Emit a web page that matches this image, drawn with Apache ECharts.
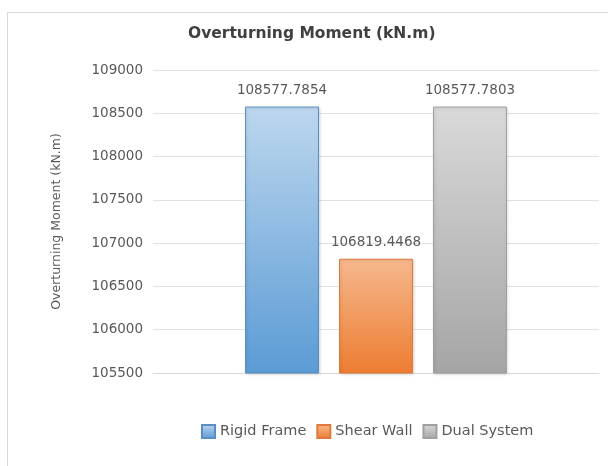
<!DOCTYPE html>
<html>
<head>
<meta charset="utf-8">
<script src="https://cdn.jsdelivr.net/npm/echarts@6/dist/echarts.min.js"></script>
<style>
  html, body { margin: 0; padding: 0; background: #fff; }
  #frame {
    position: absolute; left: 7px; top: 12px; width: 601px; height: 454px;
    border-top: 1px solid #d9d9d9; border-left: 1px solid #d9d9d9;
  }
  #chart { position: absolute; left: 0; top: 0; width: 608px; height: 466px; }
</style>
</head>
<body>
<div id="frame"></div>
<div id="chart"></div>
<script>
const categories = ["Overturning Moment"];
const seriesNames = ["Rigid Frame", "Shear Wall", "Dual System"];
const rigidFrame = [108577.7854];
const shearWall = [106819.4468];
const dualSystem = [108577.7803];

const chart = echarts.init(document.getElementById("chart"));

const grad = (top, bottom) =>
  new echarts.graphic.LinearGradient(0, 0, 0, 1, [
    { offset: 0, color: top },
    { offset: 1, color: bottom },
  ]);

const makeSeries = (name, data, top, bottom, border) => ({
  name,
  type: "bar",
  data,
  barWidth: 74,
  barGap: "27%",
  itemStyle: {
    color: grad(top, bottom),
    borderColor: border,
    borderWidth: 1,
    shadowColor: "rgba(0,0,0,0.15)",
    shadowBlur: 3,
    shadowOffsetX: 1,
    shadowOffsetY: 1,
  },
  label: {
    show: true,
    position: "top",
    distance: 9,
    color: "#595959",
    fontSize: 13.5,
    fontFamily: "DejaVu Sans",
    formatter: (p) => p.value.toFixed(4),
  },
});

const option = {
  animation: false,
  backgroundColor: "transparent",
  title: {
    text: "Overturning Moment (kN.m)",
    left: 183,
    top: 21,
    textStyle: {
      fontFamily: "DejaVu Sans",
      fontWeight: "bold",
      fontSize: 15.5,
      color: "#404040",
    },
  },
  legend: {
    data: seriesNames,
    bottom: 22,
    left: 196,
    icon: "rect",
    itemWidth: 13,
    itemHeight: 13,
    itemGap: 10,
    textStyle: { fontFamily: "DejaVu Sans", fontSize: 14.5, color: "#595959" },
  },
  grid: { left: 153, right: 9, top: 70, bottom: 93 },
  xAxis: {
    type: "category",
    data: categories,
    axisLabel: { show: false },
    axisTick: { show: false },
    axisLine: { lineStyle: { color: "#d9d9d9" } },
  },
  yAxis: {
    type: "value",
    min: 105500,
    max: 109000,
    interval: 500,
    name: "Overturning Moment (kN.m)",
    nameLocation: "middle",
    nameGap: 90,
    nameTextStyle: { fontFamily: "DejaVu Sans", fontSize: 12.5, color: "#595959" },
    axisLabel: {
      fontFamily: "DejaVu Sans",
      fontSize: 13.5,
      color: "#595959",
      margin: 10,
      formatter: (v) => String(v),
    },
    axisLine: { show: false },
    axisTick: { show: false },
    splitLine: { lineStyle: { color: "#e3e3e3" } },
  },
  series: [
    makeSeries(seriesNames[0], rigidFrame, "#bdd7ee", "#5b9bd5", "#5a8fc4"),
    makeSeries(seriesNames[1], shearWall, "#f6b88e", "#ed7d31", "#e07a3a"),
    makeSeries(seriesNames[2], dualSystem, "#d9d9d9", "#a5a5a5", "#a0a0a0"),
  ],
};

chart.setOption(option);
</script>
</body>
</html>
